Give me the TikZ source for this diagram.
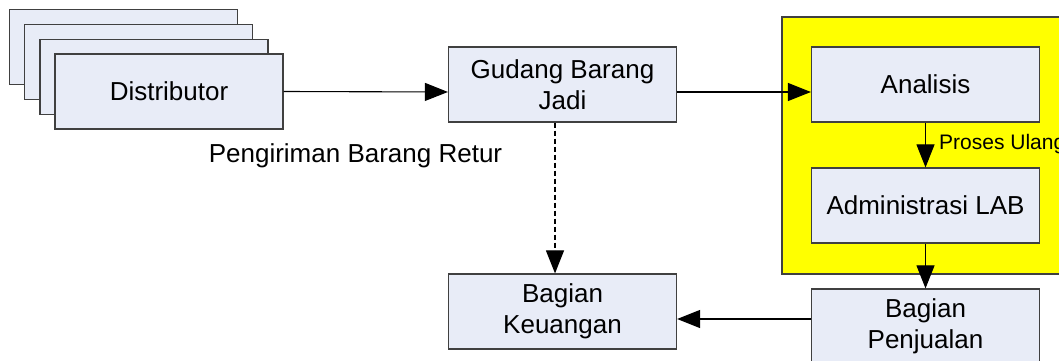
\documentclass[tikz,border=0pt]{standalone}
\usepackage{fontspec}
\setmainfont{Liberation Sans}
\usetikzlibrary{arrows.meta}
\definecolor{boxfill}{HTML}{E8ECF7}
\definecolor{boxline}{HTML}{404040}
\definecolor{labyellow}{HTML}{FFFF00}
\tikzset{
  stepbox/.style={draw=boxline, line width=1.2pt, fill=boxfill, rectangle,
    minimum width=228pt, minimum height=75pt, inner sep=0pt, align=center,
    font=\fontsize{26}{31}\selectfont},
  flow/.style={draw=black, line width=1.1pt,
    -{Triangle[length=23pt,width=18pt]}},
  dashflow/.style={flow, dash pattern=on 5pt off 3pt},
  lbl/.style={inner sep=0pt, font=\fontsize{26}{31}\selectfont},
  smalllbl/.style={inner sep=0pt, font=\fontsize{21}{25}\selectfont}
}
\begin{document}
\begin{tikzpicture}[x=1pt, y=-1pt]
  \useasboundingbox (0,0) rectangle (1059,361);
  \fill[white] (0,0) rectangle (1059,361);

  % laboratory area
  \draw[fill=labyellow, draw=boxline, line width=1.2pt] (782,17) rectangle (1080,274);

  % stacked distributor cards
  \node[stepbox] (d1) at (123.5,47) {};
  \node[stepbox] (d2) at (138.5,62) {};
  \node[stepbox] (d3) at (154,77) {};
  \node[stepbox] (dist) at (169,91.5) {Distributor};

  \node[stepbox] (gudang) at (562.5,84.5) {Gudang Barang\\Jadi};
  \node[stepbox] (analisis) at (925.5,84.5) {Analisis};
  \node[stepbox] (admin) at (925.5,205.5) {Administrasi LAB};
  \node[stepbox] (jual) at (925.5,326.5) {Bagian\\Penjualan};
  \node[stepbox] (uang) at (562.5,311.5) {Bagian\\Keuangan};

  \node[lbl, anchor=base] (retur) at (355.5,162) {Pengiriman Barang Retur};
  \node[smalllbl, anchor=base west] (ulang) at (939,149) {Proses Ulang};

  % connectors
  \coordinate (jualin) at ([yshift=7.5pt]jual.west);
  \draw[flow] (dist.east) -- ([yshift=-7.5pt]gudang.west);
  \draw[flow] ([yshift=-7.5pt]gudang.east) -- ([yshift=-7.5pt]analisis.west);
  \draw[flow] (analisis.south) -- (admin.north);
  \draw[flow] (admin.south) -- (jual.north);
  \draw[flow] (jualin) -- (uang.east |- jualin);
  \draw[dashflow] ([xshift=-7.5pt]gudang.south) -- ([xshift=-7.5pt]uang.north);
\end{tikzpicture}
\end{document}
